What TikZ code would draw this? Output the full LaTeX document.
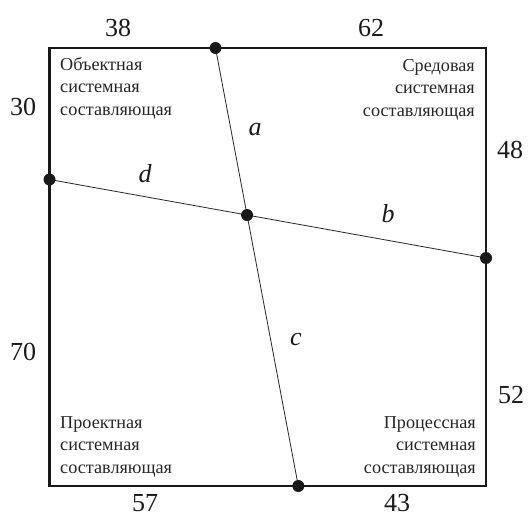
\documentclass[tikz,border=0pt]{standalone}
\usepackage{fontspec}
\setmainfont{Liberation Serif}
\begin{document}
\begin{tikzpicture}[x=1pt,y=-1pt,
  frame/.style={line width=2.6pt, draw=black!90},
  seg/.style={line width=0.8pt, draw=black!85},
  dot/.style={circle, fill=black!90, inner sep=0pt, minimum size=12pt},
  num/.style={font=\fontsize{26}{30}\selectfont, text=black!90},
  lbl/.style={font=\fontsize{26}{30}\selectfont\itshape, text=black!90},
  corner/.style={font=\fontsize{18.2}{22.5}\selectfont, text=black!85, inner sep=0pt}]
\useasboundingbox (0,0) rectangle (528,519);
\coordinate (NW) at (49.5,48);
\coordinate (SE) at (486,486);
\coordinate (T) at (215.5,48);
\coordinate (L) at (49.5,179.5);
\coordinate (R) at (486,258);
\coordinate (B) at (298.3,486);
\coordinate (X) at (intersection of T--B and L--R);
\draw[frame] (NW) rectangle (SE);
\draw[seg] (T) -- (B);
\draw[seg] (L) -- (R);
\node[dot] (dT) at (T) {};
\node[dot] (dL) at (L) {};
\node[dot] (dR) at (R) {};
\node[dot] (dB) at (B) {};
\node[dot] (dX) at (X) {};
\node[lbl] (la) at (255,130) {a};
\node[lbl] (ld) at (145,174) {d};
\node[lbl] (lb) at (388,214) {b};
\node[lbl] (lc) at (296,340) {c};
\node[num] (n38) at (118,28) {38};
\node[num] (n62) at (371,28) {62};
\node[num] (n30) at (23,107) {30};
\node[num] (n48) at (510,150) {48};
\node[num] (n70) at (23,352) {70};
\node[num] (n52) at (511,395) {52};
\node[num] (n57) at (145,503) {57};
\node[num] (n43) at (397,503) {43};
\node[corner, align=left, anchor=north west] (c1) at (60,57) {Объектная\\системная\\составляющая};
\node[corner, align=right, anchor=north east] (c2) at (475,59) {Средовая\\системная\\составляющая};
\node[corner, align=left, anchor=south west] (c3) at (60,477) {Проектная\\системная\\составляющая};
\node[corner, align=right, anchor=south east] (c4) at (476,477) {Процессная\\системная\\составляющая};
\end{tikzpicture}
\end{document}
